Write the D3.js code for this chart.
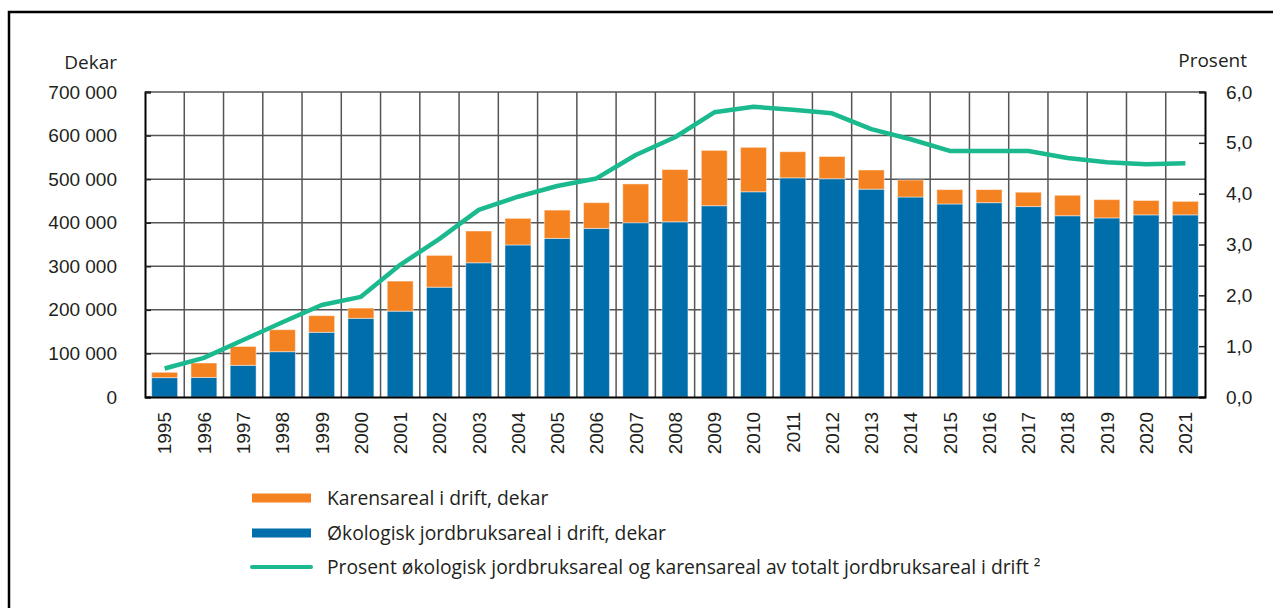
<!DOCTYPE html>
<html>
<head>
<meta charset="utf-8">
<script src="https://cdn.jsdelivr.net/npm/d3@7"></script>
<style>
  body { margin: 0; background: #fff; }
  svg { display: block; font-family: "Open Sans", sans-serif; }
</style>
</head>
<body>
<svg width="1273" height="608"></svg>
<script>
const years = ['1995','1996','1997','1998','1999','2000','2001','2002','2003','2004','2005','2006','2007','2008','2009','2010','2011','2012','2013','2014','2015','2016','2017','2018','2019','2020','2021'];
// økologisk areal (dekar)
const organic = [44400, 45000, 72700, 104000, 148500, 180600, 197000, 252000, 308000, 349000, 364000, 387000, 400000, 402000, 439000, 471000, 503000, 501000, 477000, 459000, 443000, 446000, 437000, 416000, 411000, 418000, 418000];
// karensareal (dekar)
const karens = [12300, 33000, 43300, 50500, 38200, 23400, 69000, 73000, 73000, 61000, 65000, 59000, 89000, 120000, 127000, 102000, 60000, 51000, 44000, 39000, 33000, 30000, 33000, 47000, 42000, 33000, 31000];
// prosent av totalt jordbruksareal
const percent = [0.56, 0.77, 1.12, 1.47, 1.81, 1.97, 2.60, 3.11, 3.68, 3.94, 4.15, 4.30, 4.76, 5.11, 5.60, 5.71, 5.65, 5.58, 5.27, 5.07, 4.84, 4.84, 4.84, 4.70, 4.62, 4.58, 4.60];
const leftTicks = [0, 100000, 200000, 300000, 400000, 500000, 600000, 700000];
const rightTicks = [0, 1, 2, 3, 4, 5, 6];
const legendLabels = ['Karensareal i drift, dekar', 'Økologisk jordbruksareal i drift, dekar', 'Prosent økologisk jordbruksareal og karensareal av totalt jordbruksareal i drift ²'];

const blue = '#006eab';
const orange = '#f58220';
const green = '#1bb98e';
const grid = '#555555';

const pLeft = 145, pRight = 1205, pTop = 92, pBottom = 397;

const nb = d3.formatLocale({decimal: ',', thousands: ' ', grouping: [3], currency: ['', '']});
const fmtL = nb.format(',');
const fmtR = nb.format('.1f');

const svg = d3.select('svg');

// ramme
svg.append('rect')
    .attr('x', 9).attr('y', 12)
    .attr('width', 1300).attr('height', 700)
    .attr('fill', 'none')
    .attr('stroke', '#000')
    .attr('stroke-width', 2.5);

const x = d3.scaleBand()
    .domain(years)
    .range([pLeft, pRight])
    .paddingInner(0.34)
    .paddingOuter(0.17);

const y = d3.scaleLinear().domain([0, 700000]).range([pBottom, pTop]);
const y2 = d3.scaleLinear().domain([0, 6]).range([pBottom, pTop]);

// horisontale rutenett
svg.append('g')
    .selectAll('line')
    .data(leftTicks.slice(1))
    .join('line')
    .attr('x1', pLeft).attr('x2', pRight)
    .attr('y1', d => y(d)).attr('y2', d => y(d))
    .attr('stroke', grid)
    .attr('stroke-width', 1.5);

// vertikale rutenett
svg.append('g')
    .selectAll('line')
    .data(d3.range(1, years.length))
    .join('line')
    .attr('x1', i => pLeft + i * x.step())
    .attr('x2', i => pLeft + i * x.step())
    .attr('y1', pTop).attr('y2', pBottom)
    .attr('stroke', grid)
    .attr('stroke-width', 1.5);

const rows = years.map((yr, i) => ({year: yr, organic: organic[i], karens: karens[i]}));

const bars = svg.append('g');
bars.selectAll('.org')
    .data(rows)
    .join('rect')
    .attr('class', 'org')
    .attr('x', d => x(d.year))
    .attr('width', x.bandwidth())
    .attr('y', d => y(d.organic))
    .attr('height', d => y(0) - y(d.organic))
    .attr('fill', blue)
    .attr('stroke', 'rgba(255,255,255,0.45)')
    .attr('stroke-width', 1);

bars.selectAll('.kar')
    .data(rows)
    .join('rect')
    .attr('class', 'kar')
    .attr('x', d => x(d.year))
    .attr('width', x.bandwidth())
    .attr('y', d => y(d.organic + d.karens))
    .attr('height', d => y(d.organic) - y(d.organic + d.karens))
    .attr('fill', orange)
    .attr('stroke', 'rgba(255,255,255,0.45)')
    .attr('stroke-width', 1);

// akser
let yAxis = svg.append('g')
    .attr('transform', `translate(${pLeft},0)`)
    .call(d3.axisLeft(y).tickValues(leftTicks).tickFormat(fmtL).tickSize(-6).tickPadding(28));
yAxis.select('.domain').attr('stroke', '#000').attr('stroke-width', 2);
yAxis.selectAll('.tick line').attr('stroke', '#222').attr('stroke-width', 1.5);
yAxis.selectAll('.tick text')
    .attr('font-size', 19)
    .attr('fill', '#231f20');

let y2Axis = svg.append('g')
    .attr('transform', `translate(${pRight},0)`)
    .call(d3.axisRight(y2).tickValues(rightTicks).tickFormat(fmtR).tickSize(-6).tickPadding(21));
y2Axis.select('.domain').attr('stroke', '#000').attr('stroke-width', 2);
y2Axis.selectAll('.tick line').attr('stroke', '#222').attr('stroke-width', 1.5);
y2Axis.selectAll('.tick text')
    .attr('font-size', 19)
    .attr('fill', '#231f20');

let xAxis = svg.append('g')
    .attr('transform', `translate(0,${pBottom})`)
    .call(d3.axisBottom(x).tickSize(0).tickPadding(0));
xAxis.select('.domain').attr('stroke', '#000').attr('stroke-width', 2);
xAxis.selectAll('.tick text')
    .attr('font-size', 19)
    .attr('fill', '#231f20')
    .attr('text-anchor', 'end')
    .attr('transform', 'translate(0,15) rotate(-90)')
    .attr('dy', '0.36em')
    .attr('y', 0);

// aksetitler
svg.append('text')
    .attr('x', 117).attr('y', 69)
    .attr('text-anchor', 'end')
    .attr('font-size', 19)
    .attr('fill', '#231f20')
    .text('Dekar');
svg.append('text')
    .attr('x', 1247).attr('y', 67)
    .attr('text-anchor', 'end')
    .attr('font-size', 19)
    .attr('fill', '#231f20')
    .text('Prosent');

// linje
const line = d3.line()
    .x((d, i) => x(years[i]) + x.bandwidth() / 2)
    .y(d => y2(d));
svg.append('path')
    .datum(percent)
    .attr('d', line)
    .attr('fill', 'none')
    .attr('stroke', green)
    .attr('stroke-width', 4.5)
    .attr('stroke-linejoin', 'round');

// forklaring
const legend = svg.append('g');
const legY = [498, 533, 567];
legend.append('rect').attr('x', 252).attr('y', legY[0] - 4.5).attr('width', 59).attr('height', 9).attr('fill', orange);
legend.append('rect').attr('x', 252).attr('y', legY[1] - 4.5).attr('width', 59).attr('height', 9).attr('fill', blue);
legend.append('line').attr('x1', 252).attr('x2', 311).attr('y1', legY[2]).attr('y2', legY[2])
    .attr('stroke', green).attr('stroke-width', 4).attr('stroke-linecap', 'round');
legend.selectAll('text')
    .data(legendLabels)
    .join('text')
    .attr('x', 327)
    .attr('y', (d, i) => legY[i])
    .attr('dy', '0.35em')
    .attr('font-size', 19.3)
    .attr('fill', '#231f20')
    .text(d => d);
</script>
</body>
</html>
